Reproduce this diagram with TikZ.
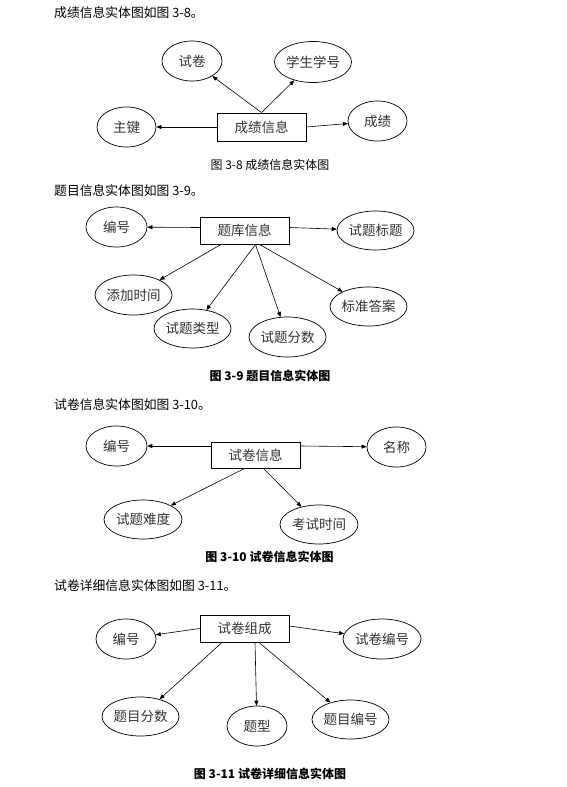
\documentclass[tikz,border=0pt]{standalone}
\usepackage{fontspec}
\setmainfont{Noto Sans CJK SC}
\usetikzlibrary{shapes.geometric,arrows.meta}
\tikzset{
  attr/.style={draw=black,line width=0.7pt,ellipse,inner sep=0pt,font=\fontsize{13.5}{13.5}\selectfont,text=black!80},
  entity/.style={draw=black,line width=0.9pt,rectangle,inner sep=0pt,minimum width=89pt,font=\fontsize{13.5}{13.5}\selectfont,text=black!80},
  link/.style={draw=black,line width=0.6pt,-{Triangle[length=5pt,width=4pt]}},
  body/.style={anchor=west,inner sep=0pt,font=\fontsize{12.8}{12.8}\selectfont},
  capn/.style={inner sep=0pt,font=\fontsize{12}{12}\selectfont},
  capb/.style={inner sep=0pt,font=\bfseries\fontsize{12}{12}\selectfont}
}
\begin{document}
\begin{tikzpicture}[x=1pt,y=-1pt]
\useasboundingbox[fill=white] (0,0) rectangle (566,787);
% ---------- Figure 3-8 ----------
\node[body] (t1) at (54,13) {成绩信息实体图如图 3-8。};
\node[entity,minimum height=28pt] (c1) at (261.5,127) {成绩信息};
\node[attr,minimum width=60pt,minimum height=40pt] (a1) at (192,61) {试卷};
\node[attr,minimum width=77pt,minimum height=41pt] (a2) at (313,62) {学生学号};
\node[attr,minimum width=59pt,minimum height=40pt] (a3) at (126.5,127) {主键};
\node[attr,minimum width=59pt,minimum height=40pt] (a4) at (377.5,121) {成绩};
\draw[link] (c1.north) -- (a1);
\draw[link] (c1.north) -- (a2);
\draw[link] (c1.west) -- (a3);
\draw[link] (c1.east) -- (a4);
\node[capn] (f1) at (270,165) {图 3-8 成绩信息实体图};
% ---------- Figure 3-9 ----------
\node[body] (t2) at (54,191) {题目信息实体图如图 3-9。};
\node[entity,minimum height=27pt] (c2) at (244.5,230.5) {题库信息};
\node[attr,minimum width=61pt,minimum height=40pt] (b1) at (116.5,227) {编号};
\node[attr,minimum width=77pt,minimum height=39pt] (b2) at (375.5,230.5) {试题标题};
\node[attr,minimum width=77pt,minimum height=40pt] (b3) at (133.5,295) {添加时间};
\node[attr,minimum width=77pt,minimum height=39pt] (b4) at (192.5,328.5) {试题类型};
\node[attr,minimum width=77pt,minimum height=40pt] (b5) at (287.5,337) {试题分数};
\node[attr,minimum width=77pt,minimum height=39pt] (b6) at (368.5,306.5) {标准答案};
\draw[link] ([yshift=3pt]c2.west) -- (b1);
\draw[link] ([yshift=3pt]c2.east) -- (b2);
\draw[link] ([xshift=-23.5pt]c2.south) -- (b3);
\draw[link] ([xshift=11pt]c2.south) -- (b4);
\draw[link] ([xshift=11pt]c2.south) -- (b5);
\draw[link] ([xshift=15pt]c2.south) -- (b6);
\node[capb] (f2) at (270,376) {图 3-9 题目信息实体图};
% ---------- Figure 3-10 ----------
\node[body] (t3) at (54,405) {试卷信息实体图如图 3-10。};
\node[entity,minimum height=26pt] (c3) at (255.5,455) {试卷信息};
\node[attr,minimum width=61pt,minimum height=40pt] (d1) at (116.5,446) {编号};
\node[attr,minimum width=59pt,minimum height=40pt] (d2) at (396.5,447) {名称};
\node[attr,minimum width=78pt,minimum height=39pt] (d3) at (143,519.5) {试题难度};
\node[attr,minimum width=78pt,minimum height=39pt] (d4) at (319,524.5) {考试时间};
\draw[link] ([yshift=9pt]c3.west) -- (d1);
\draw[link] ([yshift=9pt]c3.east) -- (d2);
\draw[link] ([xshift=-11pt]c3.south) -- (d3);
\draw[link] ([xshift=8pt]c3.south) -- (d4);
\node[capb] (f3) at (269.5,557) {图 3-10 试卷信息实体图};
% ---------- Figure 3-11 ----------
\node[body] (t4) at (54,586) {试卷详细信息实体图如图 3-11。};
\node[entity,minimum height=27pt] (c4) at (244.5,628.5) {试卷组成};
\node[attr,minimum width=60pt,minimum height=40pt] (e1) at (126,639) {编号};
\node[attr,minimum width=78pt,minimum height=40pt] (e2) at (382,639) {试卷编号};
\node[attr,minimum width=77pt,minimum height=39pt] (e3) at (140.5,716.5) {题目分数};
\node[attr,minimum width=60pt,minimum height=40pt] (e4) at (257,726) {题型};
\node[attr,minimum width=77pt,minimum height=39pt] (e5) at (350.5,719.5) {题目编号};
\draw[link] (c4.west) -- (e1);
\draw[link] ([yshift=2.5pt]c4.east) -- (e2);
\draw[link] ([xshift=-22.5pt]c4.south) -- (e3);
\draw[link] ([xshift=10.5pt]c4.south) -- (e4);
\draw[link] ([xshift=14.5pt]c4.south) -- (e5);
\node[capb] (f4) at (270,774) {图 3-11 试卷详细信息实体图};
\end{tikzpicture}
\end{document}
